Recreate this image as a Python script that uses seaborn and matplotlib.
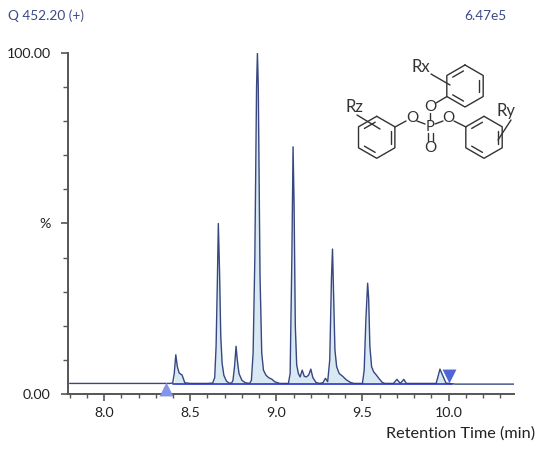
import numpy as np
import pandas as pd
import matplotlib
matplotlib.use('Agg')
import matplotlib.pyplot as plt
from matplotlib.ticker import MultipleLocator
import seaborn as sns

retention_time = [
    7.80, 8.38, 8.398, 8.407, 8.416, 8.425, 8.435, 8.445, 8.452, 8.46, 8.468, 8.50, 8.60,
    8.63, 8.642, 8.65, 8.657, 8.663, 8.67, 8.677, 8.685, 8.695, 8.71, 8.725, 8.74,
    8.748, 8.757, 8.766, 8.773, 8.783, 8.80, 8.82, 8.845,
    8.855, 8.865, 8.875, 8.885, 8.89, 8.895, 8.905, 8.915, 8.925, 8.94, 8.955, 8.975, 8.99, 9.02,
    9.07, 9.08, 9.09, 9.097, 9.103, 9.11, 9.118, 9.128, 9.138, 9.15, 9.162, 9.175, 9.188, 9.20, 9.212, 9.23, 9.25,
    9.27, 9.285, 9.298, 9.31, 9.32, 9.326, 9.332, 9.34, 9.35, 9.365, 9.385, 9.405, 9.43, 9.45,
    9.50, 9.51, 9.52, 9.53, 9.536, 9.543, 9.553, 9.565, 9.58, 9.595, 9.615, 9.63,
    9.68, 9.70, 9.72, 9.74, 9.755, 9.77, 9.90, 9.928, 9.95, 9.985, 10.00, 10.04, 10.38,
]
intensity = [
    3.1, 3.1, 3.2, 6, 11.5, 8, 6.2, 5.8, 5.6, 4.5, 3.3, 3.1, 3.1,
    3.2, 4.8, 14, 32, 50, 36, 17, 9, 5.5, 3.8, 3.2, 3.2,
    4, 8, 14, 10, 6, 4, 3.3, 3.1,
    4, 12, 40, 90, 100, 90, 35, 12, 7, 5.5, 4.8, 4.3, 3.6, 3.1,
    3.1, 6, 40, 72.5, 55, 20, 8.5, 6, 5, 7, 5.2, 5, 5.6, 7.3, 4.8, 3.4, 3.1,
    3.3, 4.6, 3.6, 10, 34, 42.5, 30, 13, 8, 6, 5.2, 4.2, 3.4, 3.1,
    3.1, 7, 22, 32.5, 28, 14, 8, 6.5, 5.6, 4.6, 3.4, 3.1,
    3.1, 4.3, 3.1, 4.3, 3.1, 3.1, 3.1, 3.1, 7.3, 3.2, 3.1, 2.9, 2.9,
]
x_ticks = [8.0, 8.5, 9.0, 9.5, 10.0]
y_ticks = [0, 50, 100]
y_labels = ['0.00', '%', '100.00']
integration_start = 8.40
integration_end = 10.02
baseline_level = 3.0
start_marker = (8.36, 1.6)
end_marker = (10.005, 5.3)

# chemical sketch, in image pixels
ring_centres = [(465, 86), (376.7, 137.3), (484, 137.3)]
ring_inner_edges = [(1, 3, 5), (1, 3, 5), (1, 3, 5)]
oxygen_spots = [(430, 106.7), (412.3, 118.3), (448.3, 118.3), (430, 147.7)]
chem_bonds = [
    ((436, 103), (447, 96.5)), ((430, 113), (430, 120)), ((417, 121), (425, 124)),
    ((443, 121), (435, 124)), ((395, 127), (406, 121)), ((466, 127), (454, 121)),
    ((431, 74), (450, 85)), ((357, 115), (380, 129)), ((511, 120), (498, 140)),
]
chem_labels = [('Rx', 421, 67), ('Rz', 354, 107), ('Ry', 506, 111)]

df = pd.DataFrame({'rt': retention_time, 'signal': intensity})

sns.set_theme(style='ticks')
plt.rcParams['font.family'] = ['Lato', 'DejaVu Sans']

W, H = 544, 449
fig = plt.figure(figsize=(W / 100, H / 100), dpi=100)
ax = fig.add_axes([68 / W, 1 - 394 / H, (514 - 68) / W, (394 - 53) / H])

window = df[(df.rt >= integration_start) & (df.rt <= integration_end)]
ax.fill_between(window.rt, baseline_level, window.signal, color='#d8e9f4', lw=0)
sns.lineplot(data=df, x='rt', y='signal', ax=ax, color='#38477f', lw=1.0, estimator=None, sort=False)
ax.plot([integration_start, integration_end], [baseline_level, baseline_level], color='#2a35c8', lw=1.2)

ax.scatter(*start_marker, marker='^', s=100, color='#8494e8', lw=0, zorder=5, clip_on=False)
ax.scatter(*end_marker, marker='v', s=100, color='#4f64d6', lw=0, zorder=5)

ax.set_xlim(7.79, 10.38)
ax.set_ylim(0, 100)
ax.set_xticks(x_ticks)
ax.set_xticklabels([f'{t:.1f}' for t in x_ticks])
ax.set_yticks(y_ticks)
ax.set_yticklabels(y_labels)
ax.xaxis.set_minor_locator(MultipleLocator(0.1))
ax.yaxis.set_minor_locator(MultipleLocator(10))
ax.tick_params(axis='x', which='major', length=5, width=1.2, color='#555555', labelsize=10.2, labelcolor='#222222', pad=4.5)
ax.tick_params(axis='x', which='minor', length=3, width=1.0, color='#555555')
ax.tick_params(axis='y', which='major', length=5, width=1.2, color='#555555', labelsize=10.2, labelcolor='#222222', pad=7.5)
ax.tick_params(axis='y', which='minor', length=3.5, width=1.0, color='#555555')
ax.set_xlabel('')
ax.set_ylabel('')
for side in ['top', 'right']:
    ax.spines[side].set_visible(False)
for side in ['left', 'bottom']:
    ax.spines[side].set_linewidth(1.4)
    ax.spines[side].set_color('#555555')

fig.text(535 / W, 1 - 434 / H, 'Retention Time (min)', ha='right', va='center', fontsize=11.7, color='#222222')
fig.text(8 / W, 1 - 16 / H, 'Q 452.20 (+)', ha='left', va='center', fontsize=9.8, color='#3c4a85')
fig.text(506 / W, 1 - 16 / H, '6.47e5', ha='right', va='center', fontsize=9.8, color='#3c4a85')

# overlay for the molecule, y flipped to match image pixels
mol = fig.add_axes([0, 0, 1, 1], facecolor='none')
mol.set_xlim(0, W)
mol.set_ylim(H, 0)
mol.axis('off')
chem_color = '#333333'
R = 21
angles = np.radians(np.arange(6) * 60 - 90)
for (cx, cy), inner in zip(ring_centres, ring_inner_edges):
    vx = cx + R * np.cos(angles)
    vy = cy + R * np.sin(angles)
    mol.plot(np.append(vx, vx[0]), np.append(vy, vy[0]), color=chem_color, lw=1.0)
    for i in inner:
        j = (i + 1) % 6
        a = np.array([cx + 0.76 * (vx[i] - cx), cy + 0.76 * (vy[i] - cy)])
        b = np.array([cx + 0.76 * (vx[j] - cx), cy + 0.76 * (vy[j] - cy)])
        mid = (a + b) / 2
        a, b = mid + 0.78 * (a - mid), mid + 0.78 * (b - mid)
        mol.plot([a[0], b[0]], [a[1], b[1]], color=chem_color, lw=1.0)
for p, q in chem_bonds:
    mol.plot([p[0], q[0]], [p[1], q[1]], color=chem_color, lw=1.0)
for dx in (-2.5, 2.5):
    mol.plot([430 + dx, 430 + dx], [133, 141], color=chem_color, lw=1.0)
for ox, oy in oxygen_spots:
    mol.text(ox, oy, 'O', ha='center', va='center', fontsize=11, color=chem_color)
mol.text(430, 127, 'P', ha='center', va='center', fontsize=10.5, color=chem_color)
for label, lx, ly in chem_labels:
    mol.text(lx, ly, label, ha='center', va='center', fontsize=12, color=chem_color)

fig.savefig('out.png', dpi=100)
